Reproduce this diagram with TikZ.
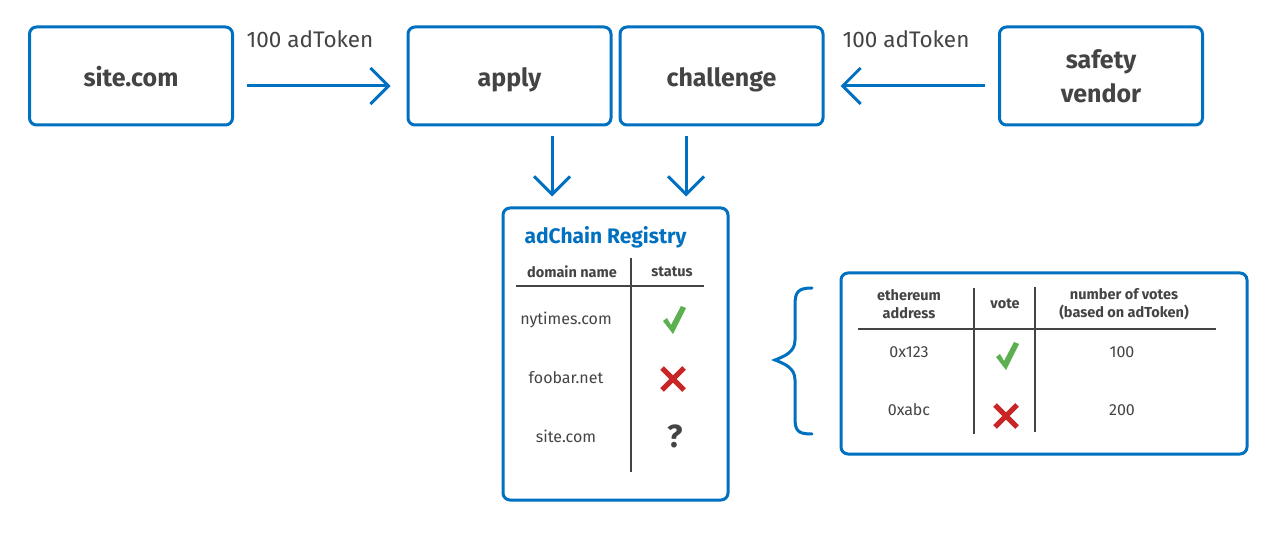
\documentclass[tikz,border=0pt]{standalone}
\usepackage{fontspec}
\setmainfont{Fira Sans}
\usetikzlibrary{arrows.meta}
\definecolor{ablue}{RGB}{0,112,192}
\definecolor{tgray}{RGB}{68,68,68}
\definecolor{cgreen}{RGB}{92,176,80}
\definecolor{cred}{RGB}{200,38,38}
\tikzset{
  box/.style={draw=ablue, line width=3pt, rounded corners=7pt, minimum width=203pt, minimum height=98pt, text=tgray, font=\bfseries\fontsize{25}{34}\selectfont, align=center},
  oneline/.style={text height=21pt, text depth=0pt},
  flow/.style={draw=ablue, line width=3pt, -{Straight Barb[length=18pt,width=36pt,line width=3pt]}},
  lbl/.style={text=tgray, font=\fontsize{22.5}{26}\selectfont},
  hdr/.style={text=tgray, font=\bfseries\fontsize{14.5}{18}\selectfont, align=center},
  cell/.style={text=tgray, font=\fontsize{16}{19}\selectfont},
  rule/.style={draw=tgray, line width=1.2pt},
  okmark/.pic={\fill[cgreen] (-11,1) -- (-7,-2) -- (-3,5) -- (7,-14) -- (12,-12) -- (-1,14) -- cycle;},
  nomark/.pic={\draw[cred, line width=5pt] (-11,-11) -- (11,11) (11,-11) -- (-11,11);}
}
\begin{document}
\begin{tikzpicture}[x=1pt,y=-1pt]
\useasboundingbox[fill=white] (0,0) rectangle (1280,534);
% top boxes
\node[box, oneline] (site) at (131,76) {site.com};
\node[box, oneline] (apply) at (509.5,76) {apply};
\node[box, oneline] (chal) at (721.5,76) {challenge};
\node[box] (vend) at (1101,76) {safety\\vendor};
% flows
\draw[flow, shorten <=13pt, shorten >=16pt] (site.east |- 0,86) -- (apply.west |- 0,86);
\draw[flow, shorten <=13pt, shorten >=16pt] (vend.west |- 0,86) -- (chal.east |- 0,86);
\node[lbl] (t1) at (310,39) {100 adToken};
\node[lbl] (t2) at (906,39) {100 adToken};
% registry
\node[draw=ablue, line width=3pt, rounded corners=7pt, minimum width=225pt, minimum height=292pt] (reg) at (615.5,354) {};
\coordinate (a1) at (552,0);
\coordinate (a2) at (686,0);
\draw[flow, shorten <=10pt, shorten >=10pt] (a1 |- apply.south) -- (a1 |- reg.north);
\draw[flow, shorten <=10pt, shorten >=10pt] (a2 |- chal.south) -- (a2 |- reg.north);
\node[text=ablue, font=\bfseries\fontsize{21}{24}\selectfont, anchor=west] (title) at (521,237) {adChain Registry};
\node[hdr] (h1) at (572,272) {domain name};
\node[hdr] (h2) at (672,272) {status};
\draw[rule] (516,286) -- (704,286);
\draw[rule] (631,258) -- (631,472);
\node[cell] (r1) at (566,320) {nytimes.com};
\node[cell] (r2) at (566,378) {foobar.net};
\node[cell] (r3) at (566,436) {site.com};
\pic at (674,320) {okmark};
\pic at (673,379) {nomark};
\node[text=tgray, font=\bfseries\fontsize{32}{36}\selectfont] (q) at (675,436) {?};
% brace
\draw[ablue, line width=3pt, line cap=round] (812,288) .. controls (798,288) and (795,292) .. (795,305) -- (795,340) .. controls (795,352) and (785,356) .. (775,360) .. controls (785,364) and (795,368) .. (795,380) -- (795,418) .. controls (795,431) and (798,434) .. (812,434);
% votes
\node[draw=ablue, line width=3pt, rounded corners=7pt, minimum width=406pt, minimum height=181pt] (votes) at (1044,363.5) {};
\node[hdr] (v1) at (909,304) {ethereum\\address};
\node[hdr] (v2) at (1005,304) {vote};
\node[hdr] (v3) at (1124,304) {number of votes\\(based on adToken)};
\draw[rule] (858,329) -- (1216,329);
\draw[rule] (974,288) -- (974,434);
\draw[rule] (1035,287) -- (1035,432);
\node[cell] (c1) at (909,352) {0x123};
\node[cell] (c2) at (909,410) {0xabc};
\node[cell] (c3) at (1122,352) {100};
\node[cell] (c4) at (1122,410) {200};
\pic at (1007,356) {okmark};
\pic at (1006,416) {nomark};
\end{tikzpicture}
\end{document}
